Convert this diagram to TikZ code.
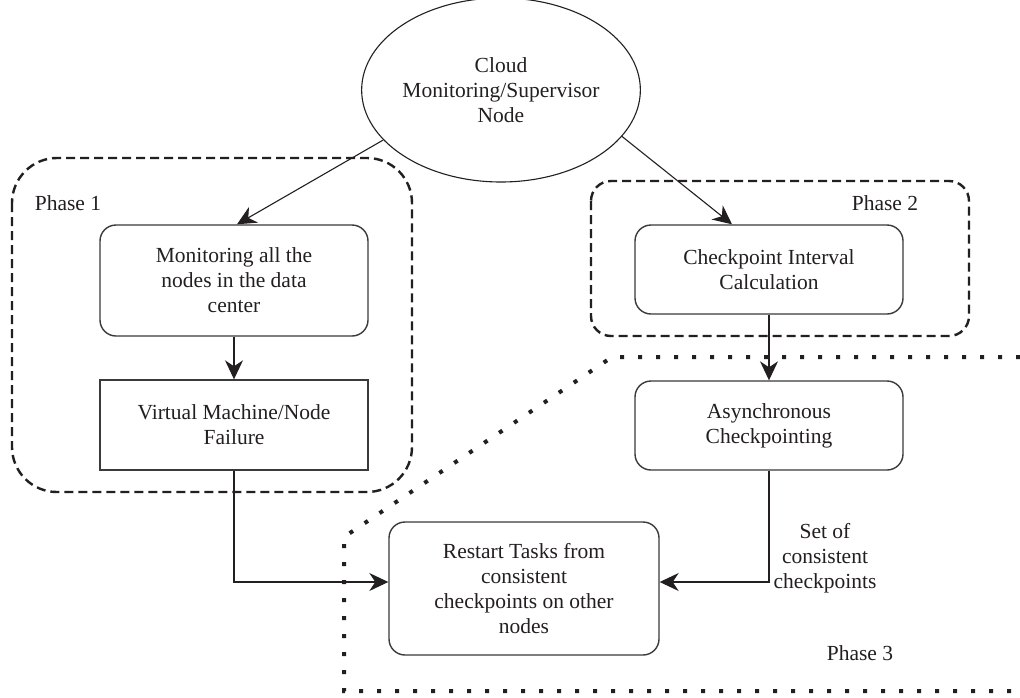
\documentclass[tikz,border=0pt]{standalone}
\usepackage{fontspec}
\setmainfont{Liberation Serif}
\usetikzlibrary{arrows.meta,shapes.geometric}
\definecolor{ink}{HTML}{231F20}
\definecolor{edge}{HTML}{3A3A3A}
\tikzset{
  txt/.style={font=\fontsize{21.5}{25}\selectfont, text=ink, align=center},
  roundbox/.style={txt, draw=edge, line width=1.4pt, rounded corners=16pt, inner sep=0pt},
  sharpbox/.style={txt, draw=edge, line width=1.4pt, inner sep=0pt},
  cloudnode/.style={txt, ellipse, draw=ink, line width=1.1pt, inner sep=0pt,
    minimum width=270pt, minimum height=184pt},
  conn/.style={draw=ink, line width=1.1pt, -{Stealth[length=19pt,width=18pt,inset=6pt]}},
  phasedash/.style={draw=ink, line width=2.4pt, dash pattern=on 9pt off 5pt, rounded corners=#1},
  phasedot/.style={draw=ink, line width=4pt, dash pattern=on 4pt off 14pt},
  phaselabel/.style={txt, inner sep=0pt}
}
\begin{document}
\begin{tikzpicture}[x=1pt,y=-1pt]
\useasboundingbox[fill=white] (0,0) rectangle (1020,697);

% phase containers
\draw[phasedash=45pt] (12,158) rectangle (412,492);
\draw[phasedash=20pt] (591,181) rectangle (969,336);
\draw[phasedot] (1020,357) -- (612,357) -- (344,537) -- (344,691) -- (1020,691);

% nodes
\node[cloudnode] (cloud) at (501,90) {Cloud\\Monitoring/Supervisor\\Node};
\node[roundbox, minimum width=268pt, minimum height=111pt] (mon) at (234,280.5)
  {Monitoring all the\\nodes in the data\\center};
\node[sharpbox, minimum width=268pt, minimum height=90pt] (virt) at (234,425)
  {Virtual Machine/Node\\Failure};
\node[roundbox, minimum width=268pt, minimum height=89pt] (chk) at (769,269.5)
  {Checkpoint Interval\\Calculation};
\node[roundbox, minimum width=268pt, minimum height=89pt] (async) at (769,425.5)
  {Asynchronous\\Checkpointing};
\node[roundbox, minimum width=270pt, minimum height=133pt] (restart) at (524,588.5)
  {Restart Tasks from\\consistent\\checkpoints on other\\nodes};

% labels
\node[phaselabel] (p1) at (68,203) {Phase 1};
\node[phaselabel] (p2) at (885,203) {Phase 2};
\node[phaselabel] (p3) at (860,653) {Phase 3};
\node[phaselabel] (setlbl) at (825,558) {Set of\\consistent\\checkpoints};

% connectors
\draw[conn] (cloud.203) -- ([xshift=3pt]mon.north);
\draw[conn] (cloud.-21) -- ([xshift=-37pt]chk.north);
\draw[conn] (mon.south) -- (virt.north);
\draw[conn] (chk.south) -- (async.north);
\draw[conn] (virt.south) |- ([yshift=6.5pt]restart.west);
\draw[conn] (async.south) |- ([yshift=6.5pt]restart.east);
\end{tikzpicture}
\end{document}
